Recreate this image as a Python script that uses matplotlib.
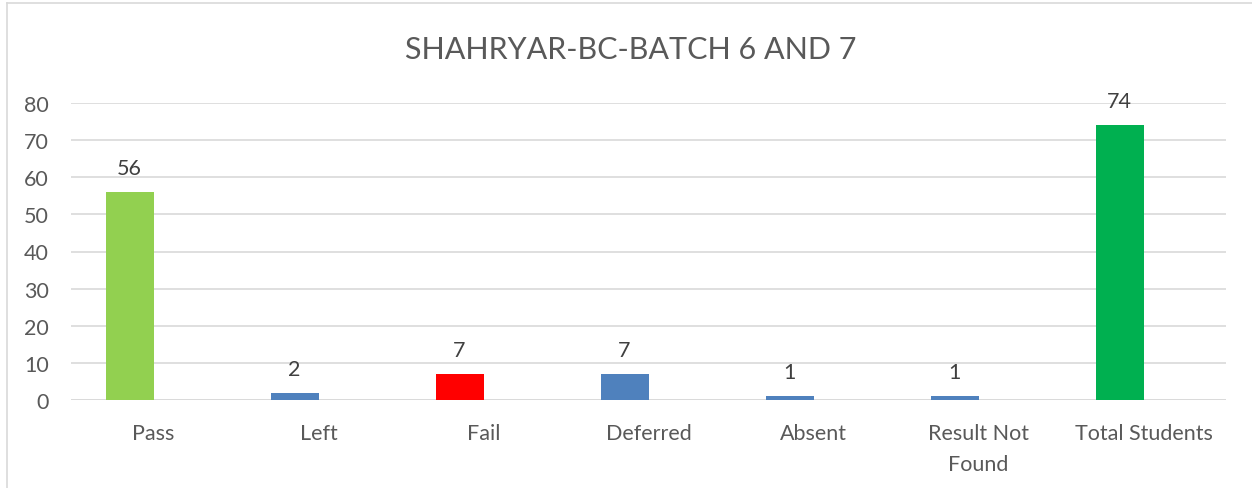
import matplotlib.pyplot as plt
from matplotlib.lines import Line2D

categories = ['Pass', 'Left', 'Fail', 'Deferred', 'Absent', 'Result Not\nFound', 'Total Students']
counts = [56, 2, 7, 7, 1, 1, 74]
bar_colors = ['#92D050', '#4F81BD', '#FF0000', '#4F81BD', '#4F81BD', '#4F81BD', '#00B050']
title = 'SHAHRYAR-BC-BATCH 6 AND 7'

plt.rcParams['font.family'] = ['Lato', 'DejaVu Sans']

W, H = 1252, 489
fig = plt.figure(figsize=(W / 100, H / 100), dpi=100)
ax = fig.add_axes([71 / W, 1 - 401 / H, (1226 - 71) / W, (401 - 104) / H])

x = list(range(len(categories)))
bw = 0.29
# excel-style clustered bar: only the left slot of each category is drawn
xs = [i - bw / 2 for i in x]
bars = ax.bar(xs, counts, width=bw, color=bar_colors, zorder=3)

for xi, v in zip(xs, counts):
    ax.annotate(str(v), (xi, v), xytext=(0, 13), textcoords='offset points',
                ha='center', va='baseline', fontsize=15.5, color='#404040',
                annotation_clip=False)

ax.set_xlim(-0.5, len(categories) - 0.5)
ax.set_ylim(0, 80)
ax.set_yticks(range(0, 81, 10))
ax.set_xticks(x)
ax.set_xticklabels(categories, linespacing=1.68)
ax.grid(axis='y', color='#D9D9D9', linewidth=1.2, zorder=0)
ax.tick_params(axis='both', length=0, labelsize=15.5, labelcolor='#595959')
ax.tick_params(axis='x', pad=16.5)
ax.tick_params(axis='y', pad=16)
for s in ax.spines.values():
    s.set_visible(False)
ax.axhline(0, color='#D9D9D9', linewidth=1.2, zorder=2)

fig.text(631 / W, 1 - 50 / H, title, ha='center', va='center',
         fontsize=22, color='#595959')

# chart border (only top and left visible in the crop)
fig.add_artist(Line2D([7 / W, 1], [1 - 4 / H, 1 - 4 / H], color='#D9D9D9', linewidth=1.2))
fig.add_artist(Line2D([7 / W, 7 / W], [0, 1 - 4 / H], color='#D9D9D9', linewidth=1.2))

fig.savefig('out.png', dpi=100, facecolor='white')
